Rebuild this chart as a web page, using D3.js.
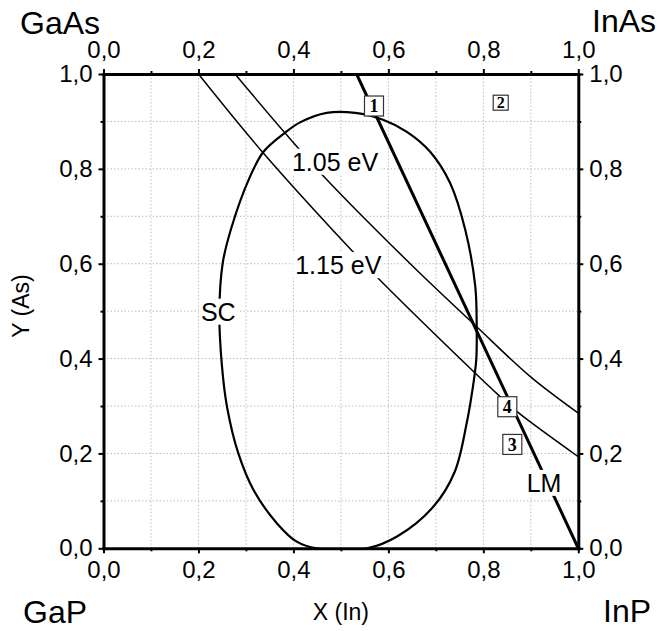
<!DOCTYPE html>
<html><head><meta charset="utf-8">
<script src="https://cdn.jsdelivr.net/npm/d3@7"></script>
<style>
html,body{margin:0;padding:0;background:#fff;}
svg{display:block;font-family:"Liberation Sans",Arial,sans-serif;}
</style></head>
<body>
<svg id="chart" width="661" height="631"></svg>
<script>
// ---- data ----
const majorTicks = [0, 0.2, 0.4, 0.6, 0.8, 1.0];
const minorTicks = [0.1, 0.3, 0.5, 0.7, 0.9];
const gridValues = [0.1,0.2,0.3,0.4,0.5,0.6,0.7,0.8,0.9];
const cornerLabels = ["GaAs", "InAs", "GaP", "InP"];
const xTitle = "X (In)";
const yTitle = "Y (As)";
// lattice-matched line (LM)
const lmLine = [[0.533, 1.0], [1.0, 0.0]];
// iso-bandgap lines
const eV105 = [[0.277,1.0],[0.382,0.876],[0.463,0.785],[0.646,0.6],[0.786,0.467],[0.899,0.362],[1.0,0.285]];
const eV115 = [[0.2,1.0],[0.337,0.833],[0.517,0.634],[0.579,0.569],[0.776,0.376],[0.832,0.323],[0.871,0.288],[1.0,0.193]];
// spinodal curve (SC)
const scCurve = [[0.449,0.0],[0.407,0.014],[0.365,0.053],[0.316,0.123],[0.284,0.2],[0.26,0.299],[0.249,0.39],[0.244,0.496],[0.251,0.601],[0.27,0.678],[0.307,0.78],[0.337,0.836],[0.382,0.876],[0.414,0.898],[0.47,0.918],[0.53,0.918],[0.59,0.903],[0.639,0.878],[0.688,0.836],[0.73,0.77],[0.762,0.671],[0.783,0.552],[0.786,0.467],[0.785,0.397],[0.776,0.327],[0.765,0.264],[0.74,0.162],[0.695,0.088],[0.62,0.026],[0.555,0.0]];
// annotations (data coordinates)
const textLabels = [
  {t:"1.05 eV", x:0.4876, y:0.815},
  {t:"1.15 eV", x:0.4945, y:0.597},
  {t:"SC", x:0.2418, y:0.4988},
  {t:"LM", x:0.9278, y:0.138}
];
const boxLabels = [
  {t:"1", x:0.5697, y:0.9325, s:"big"},
  {t:"2", x:0.8366, y:0.9395, s:"small"},
  {t:"3", x:0.861, y:0.219, s:"big"},
  {t:"4", x:0.8505, y:0.2985, s:"big"}
];

// ---- chart ----
const svg = d3.select("#chart");
const x = d3.scaleLinear().domain([0,1]).range([103.5, 578.3]);
const y = d3.scaleLinear().domain([0,1]).range([548.3, 74]);
const fmt = d => d3.format(".1f")(d).replace(".", ",");

// grid
const grid = svg.append("g").attr("stroke", "#bdbdbd").attr("stroke-width", 1).attr("stroke-dasharray", "1.5,2");
grid.selectAll(".gx").data(gridValues).join("line")
  .attr("x1", d => x(d)).attr("x2", d => x(d)).attr("y1", y(0)).attr("y2", y(1));
grid.selectAll(".gy").data(gridValues).join("line")
  .attr("y1", d => y(d)).attr("y2", d => y(d)).attr("x1", x(0)).attr("x2", x(1));

svg.append("defs").append("clipPath").attr("id","clip").append("rect")
  .attr("x", x(0)).attr("y", y(1)).attr("width", x(1)-x(0)).attr("height", y(0)-y(1));

const plot = svg.append("g").attr("clip-path","url(#clip)");
const lineC = d3.line().x(d => x(d[0])).y(d => y(d[1])).curve(d3.curveCatmullRom.alpha(0.5));

plot.append("path").datum(scCurve)
  .attr("d", d3.line().x(d => x(d[0])).y(d => y(d[1])).curve(d3.curveCatmullRomClosed.alpha(0.5)))
  .attr("fill","none").attr("stroke","#000").attr("stroke-width",2.2);
plot.append("path").datum(eV105).attr("d", lineC)
  .attr("fill","none").attr("stroke","#000").attr("stroke-width",1.5);
plot.append("path").datum(eV115).attr("d", lineC)
  .attr("fill","none").attr("stroke","#000").attr("stroke-width",1.5);
plot.append("path").datum(lmLine).attr("d", d3.line().x(d => x(d[0])).y(d => y(d[1])))
  .attr("fill","none").attr("stroke","#000").attr("stroke-width",3);

// text labels with white background
textLabels.forEach(l => {
  const g = svg.append("g");
  const r = g.append("rect").attr("fill","#fff");
  const t = g.append("text").attr("x", x(l.x)).attr("y", y(l.y)).attr("dy","0.36em")
    .attr("text-anchor","middle").attr("font-size", 25).attr("fill","#000").text(l.t);
  const b = t.node().getBBox();
  r.attr("x", b.x-2).attr("y", b.y+1).attr("width", b.width+4).attr("height", b.height-2);
});

// boxed numbers
boxLabels.forEach(l => {
  const w = l.s === "big" ? 19 : 15, h = l.s === "big" ? 20 : 15;
  const g = svg.append("g");
  g.append("rect").attr("x", x(l.x)-w/2).attr("y", y(l.y)-h/2).attr("width", w).attr("height", h)
    .attr("fill","#fff").attr("stroke","#333").attr("stroke-width",1.2);
  g.append("text").attr("x", x(l.x)).attr("y", y(l.y)).attr("dy","0.36em").attr("text-anchor","middle")
    .attr("font-family","'Liberation Serif','Times New Roman',serif").attr("font-weight","bold")
    .attr("font-size", l.s === "big" ? 18 : 16).text(l.t);
});

// axes
function styleAxis(g){
  g.select(".domain").attr("stroke-width",3).attr("stroke-linecap","square");
  g.selectAll(".tick line").attr("stroke-width",2);
  g.selectAll("text").attr("font-family","'Liberation Sans',Arial,sans-serif").attr("font-size",24).attr("fill","#000");
}
function minor(axisFn, g){
  g.append("g").call(axisFn.tickValues(minorTicks).tickSize(3).tickFormat("").tickSizeOuter(0))
   .call(s => { s.select(".domain").remove(); s.selectAll(".tick line").attr("stroke-width",2); });
}
const gb = svg.append("g").attr("transform",`translate(0,${y(0)})`);
gb.call(d3.axisBottom(x).tickValues(majorTicks).tickSize(5).tickSizeOuter(0).tickPadding(8).tickFormat(fmt)).call(styleAxis);
minor(d3.axisBottom(x), gb);
const gt = svg.append("g").attr("transform",`translate(0,${y(1)})`);
gt.call(d3.axisTop(x).tickValues(majorTicks).tickSize(5).tickSizeOuter(0).tickPadding(11).tickFormat(fmt)).call(styleAxis);
minor(d3.axisTop(x), gt);
const gl = svg.append("g").attr("transform",`translate(${x(0)},0)`);
gl.call(d3.axisLeft(y).tickValues(majorTicks).tickSize(5).tickSizeOuter(0).tickPadding(6).tickFormat(fmt)).call(styleAxis);
minor(d3.axisLeft(y), gl);
const gr = svg.append("g").attr("transform",`translate(${x(1)},0)`);
gr.call(d3.axisRight(y).tickValues(majorTicks).tickSize(5).tickSizeOuter(0).tickPadding(6).tickFormat(fmt)).call(styleAxis);
minor(d3.axisRight(y), gr);

// corner labels
const corners = [
  {t:cornerLabels[0], x:20, y:34},
  {t:cornerLabels[1], x:592, y:32},
  {t:cornerLabels[2], x:23, y:623},
  {t:cornerLabels[3], x:603, y:622}
];
svg.selectAll(".corner").data(corners).join("text").attr("class","corner")
  .attr("x", d => d.x).attr("y", d => d.y).attr("font-size",32).attr("fill","#000").text(d => d.t);

// axis titles
svg.append("text").attr("x", (x(0)+x(1))/2).attr("y", 620).attr("text-anchor","middle")
  .attr("font-size",23).text(xTitle);
svg.append("text").attr("transform","translate(29,306) rotate(-90)").attr("text-anchor","middle")
  .attr("font-size",23).text(yTitle);
</script>
</body></html>
